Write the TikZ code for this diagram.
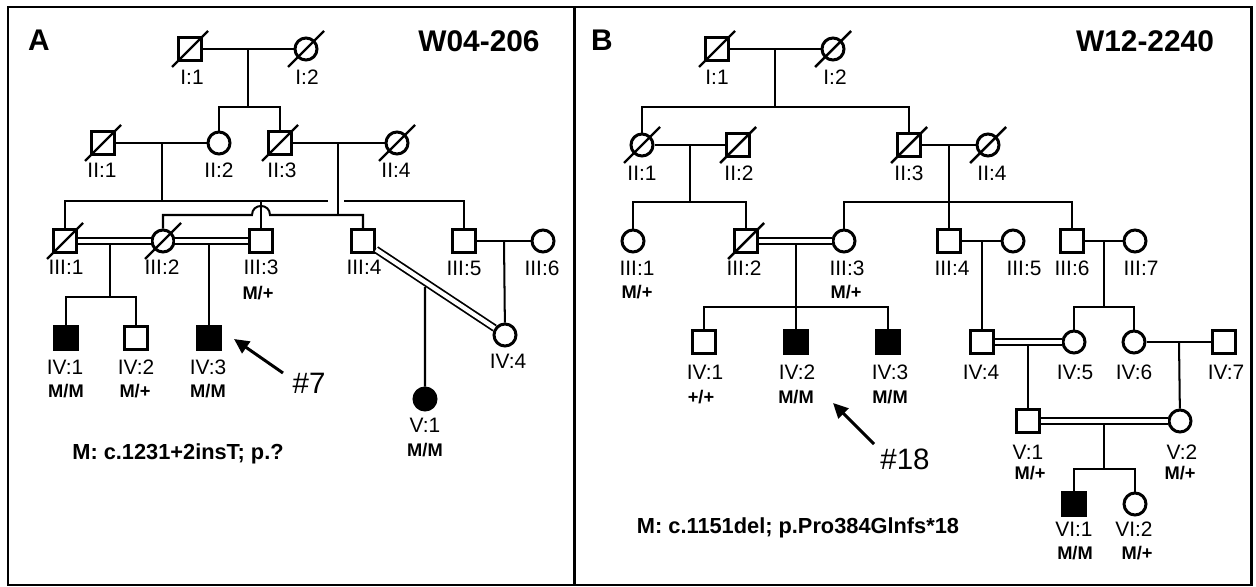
\documentclass[tikz,border=0pt]{standalone}
\usepackage{fontspec}
\setmainfont{Liberation Sans}
\usetikzlibrary{arrows.meta,calc}
\newcommand{\deceased}[1]{\draw[slash] (#1) +(-18,18) -- +(18,-18);}

\begin{document}
\begin{tikzpicture}[x=0.02cm,y=-0.02cm,
  male/.style={draw,line width=1.7pt,rectangle,minimum size=0.46cm,inner sep=0pt,fill=white},
  female/.style={draw,line width=1.7pt,circle,minimum size=0.44cm,inner sep=0pt,fill=white},
  affected/.style={fill=black},
  link/.style={line width=1.15pt},
  consang/.style={line width=1pt,double,double distance=2.4pt},
  slash/.style={line width=1.4pt},
  idlbl/.style={inner sep=0pt,font=\fontsize{11.9}{13}\selectfont},
  geno/.style={inner sep=0pt,font=\fontsize{10.4}{12}\selectfont\bfseries},
  mutn/.style={inner sep=0pt,anchor=base,font=\fontsize{12.4}{14}\selectfont\bfseries},
  famid/.style={inner sep=0pt,font=\fontsize{17}{19}\selectfont\bfseries},
  probnd/.style={inner sep=0pt,font=\fontsize{16.8}{18}\selectfont},
  pointer/.style={line width=1.7pt,-{Triangle[length=8.5pt,width=8pt]}}]
  \useasboundingbox (0,0) rectangle (1256,587);
  \draw[line width=1.7pt] (8,7) rectangle (1251,585);
  \draw[line width=1.7pt] (574,7) -- (574,585);

  % ---------------- family A
  \node[famid] (pA) at (39,40) {A};
  \node[famid] (famA) at (479,41) {W04-206};

  \node[male] (aI1) at (190,49) {};
  \node[female] (aI2) at (306,49) {};
  \node[male] (aII1) at (103,143) {};
  \node[female] (aII2) at (219,143) {};
  \node[male] (aII3) at (280,143) {};
  \node[female] (aII4) at (397,143) {};
  \node[male] (aIII1) at (65,241) {};
  \node[female] (aIII2) at (163,241) {};
  \node[male] (aIII3) at (261,241) {};
  \node[male] (aIII4) at (363,241) {};
  \node[male] (aIII5) at (464,241) {};
  \node[female] (aIII6) at (543,241) {};
  \node[male,affected] (aIV1) at (66,338) {};
  \node[male] (aIV2) at (136,338) {};
  \node[male,affected] (aIV3) at (209,338) {};
  \node[female] (aIV4) at (505,335) {};
  \node[female,affected] (aV1) at (425,399) {};
  \deceased{aI1} \deceased{aI2} \deceased{aII1}
  \deceased{aII3} \deceased{aII4} \deceased{aIII1} \deceased{aIII2}

  \coordinate (amI) at (248,49);
  \coordinate (asI) at (248,107);
  \coordinate (amII1) at (162,143);
  \coordinate (asII1) at (162,201);
  \coordinate (agapL) at (328,201);
  \coordinate (agapR) at (344,201);
  \coordinate (adIII3) at (261,201);
  \coordinate (amII3) at (338,143);
  \coordinate (asII3) at (338,215);
  \coordinate (ahopL) at (252,215);
  \coordinate (ahopR) at (270,215);
  \coordinate (amIII1) at (110,245);
  \coordinate (asIII1) at (110,297);
  \coordinate (amIII2) at (209,245);
  \coordinate (amIII5) at (504,241);
  \coordinate (amIII4) at ($(aIII4)!0.4366!(aIV4)+(0,5)$);

  \draw[link] (aI1) -- (aI2);
  \draw[link] (amI) -- (asI);
  \draw[link] (aII2) |- (asI) -| (aII3);
  \draw[link] (aII1) -- (aII2);
  \draw[link] (amII1) -- (asII1);
  \draw[link] (aIII1) |- (agapL);
  \draw[link] (agapR) -| (aIII5);
  \draw[link] (adIII3) -- (aIII3);
  \draw[link] (aII3) -- (aII4);
  \draw[link] (amII3) -- (asII3);
  \draw[link] (aIII2) |- (ahopL) .. controls +(0,-12) and +(0,-12) .. (ahopR) -| (aIII4);
  \draw[consang] (aIII1) -- (aIII2);
  \draw[consang] (aIII2) -- (aIII3);
  \draw[link] (amIII1) -- (asIII1);
  \draw[link] (aIV1) |- (asIII1) -| (aIV2);
  \draw[link] (amIII2) -- (aIV3);
  \draw[link] (aIII5) -- (aIII6);
  \draw[link] (amIII5) -- (aIV4);
  \draw[consang] (aIII4) -- (aIV4);
  \draw[link] (amIII4) -- (aV1);

  \node[idlbl] (aI1t) at (192,77) {I:1};
  \node[idlbl] (aI2t) at (307,77) {I:2};
  \node[idlbl] (aII1t) at (102,170) {II:1};
  \node[idlbl] (aII2t) at (219,170) {II:2};
  \node[idlbl] (aII3t) at (282,170) {II:3};
  \node[idlbl] (aII4t) at (396,170) {II:4};
  \node[idlbl] (aIII1t) at (66,267) {III:1};
  \node[idlbl] (aIII2t) at (162,267) {III:2};
  \node[idlbl] (aIII3t) at (261,267) {III:3};
  \node[idlbl] (aIII4t) at (364,267) {III:4};
  \node[idlbl] (aIII5t) at (464,268) {III:5};
  \node[idlbl] (aIII6t) at (542,268) {III:6};
  \node[geno] (aIII3g) at (258,293) {M/+};
  \node[idlbl] (aIV1t) at (65,367) {IV:1};
  \node[idlbl] (aIV2t) at (136,367) {IV:2};
  \node[idlbl] (aIV3t) at (208,367) {IV:3};
  \node[geno] (aIV1g) at (66,391) {M/M};
  \node[geno] (aIV2g) at (135,391) {M/+};
  \node[geno] (aIV3g) at (208,391) {M/M};
  \node[idlbl] (aIV4t) at (508,361) {IV:4};
  \node[idlbl] (aV1t) at (425,425) {V:1};
  \node[geno] (aV1g) at (425,450) {M/M};

  \node[probnd] (tag7) at (309,383) {\#7};
  \coordinate (a7s) at (283,373);
  \coordinate (a7e) at (234,339);
  \draw[pointer] (a7s) -- (a7e);
  \node[mutn] (mutA) at (178,459) {M: c.1231+2insT; p.?};

  % ---------------- family B
  \node[famid] (pB) at (602,40) {B};
  \node[famid] (famB) at (1145,41) {W12-2240};

  \node[male] (bI1) at (717,49) {};
  \node[female] (bI2) at (833,49) {};
  \node[female] (bII1) at (642,145) {};
  \node[male] (bII2) at (738,145) {};
  \node[male] (bII3) at (909,145) {};
  \node[female] (bII4) at (988,145) {};
  \node[female] (bIII1) at (633,241) {};
  \node[male] (bIII2) at (746,241) {};
  \node[female] (bIII3) at (844,241) {};
  \node[male] (bIII4) at (949,241) {};
  \node[female] (bIII5) at (1013,241) {};
  \node[male] (bIII6) at (1072,241) {};
  \node[female] (bIII7) at (1135,241) {};
  \node[male] (bIV1) at (704,342) {};
  \node[male,affected] (bIV2) at (796,342) {};
  \node[male,affected] (bIV3) at (888,342) {};
  \node[male] (bIV4) at (982,342) {};
  \node[female] (bIV5) at (1074,342) {};
  \node[female] (bIV6) at (1134,342) {};
  \node[male] (bIV7) at (1224,342) {};
  \node[male] (bV1) at (1028,421) {};
  \node[female] (bV2) at (1180,421) {};
  \node[male,affected] (bVI1) at (1074,504) {};
  \node[female] (bVI2) at (1135,504) {};
  \deceased{bI1} \deceased{bI2} \deceased{bII1} \deceased{bII2}
  \deceased{bII3} \deceased{bII4} \deceased{bIII2}

  \coordinate (bmI) at (775,49);
  \coordinate (bsI) at (775,107);
  \coordinate (bmII1) at (690,145);
  \coordinate (bsII1) at (690,202);
  \coordinate (bmII3) at (949,145);
  \coordinate (bsII3) at (949,202);
  \coordinate (bmIII2) at (796,245);
  \coordinate (bsIII2) at (796,307);
  \coordinate (bmIII4) at (982,241);
  \coordinate (bmIII6) at (1104,241);
  \coordinate (bsIII6) at (1104,307);
  \coordinate (bmIV4) at (1028,346);
  \coordinate (bmIV6) at (1179,342);
  \coordinate (bmV1) at (1104,425);
  \coordinate (bsV1) at (1104,469);

  \draw[link] (bI1) -- (bI2);
  \draw[link] (bmI) -- (bsI);
  \draw[link] (bII1) |- (bsI) -| (bII3);
  \draw[link] (bII1) -- (bII2);
  \draw[link] (bmII1) -- (bsII1);
  \draw[link] (bIII1) |- (bsII1) -| (bIII2);
  \draw[link] (bII3) -- (bII4);
  \draw[link] (bmII3) -- (bIII4);
  \draw[link] (bIII3) |- (bsII3) -| (bIII6);
  \draw[consang] (bIII2) -- (bIII3);
  \draw[link] (bmIII2) -- (bsIII2);
  \draw[link] (bIV1) |- (bsIII2) -| (bIV3);
  \draw[link] (bsIII2) -- (bIV2);
  \draw[link] (bIII4) -- (bIII5);
  \draw[link] (bmIII4) -- (bIV4);
  \draw[link] (bIII6) -- (bIII7);
  \draw[link] (bmIII6) -- (bsIII6);
  \draw[link] (bIV5) |- (bsIII6) -| (bIV6);
  \draw[consang] (bIV4) -- (bIV5);
  \draw[link] (bmIV4) -- (bV1);
  \draw[link] (bIV6) -- (bIV7);
  \draw[link] (bmIV6) -- (bV2);
  \draw[consang] (bV1) -- (bV2);
  \draw[link] (bmV1) -- (bsV1);
  \draw[link] (bVI1) |- (bsV1) -| (bVI2);

  \node[idlbl] (bI1t) at (717,77) {I:1};
  \node[idlbl] (bI2t) at (835,77) {I:2};
  \node[idlbl] (bII1t) at (642,173) {II:1};
  \node[idlbl] (bII2t) at (739,173) {II:2};
  \node[idlbl] (bII3t) at (909,173) {II:3};
  \node[idlbl] (bII4t) at (992,173) {II:4};
  \node[idlbl] (bIII1t) at (637,268) {III:1};
  \node[idlbl] (bIII2t) at (744,268) {III:2};
  \node[idlbl] (bIII3t) at (847,268) {III:3};
  \node[idlbl] (bIII4t) at (952,268) {III:4};
  \node[idlbl] (bIII5t) at (1024,268) {III:5};
  \node[idlbl] (bIII6t) at (1072,268) {III:6};
  \node[idlbl] (bIII7t) at (1141,268) {III:7};
  \node[geno] (bIII1g) at (637,292) {M/+};
  \node[geno] (bIII3g) at (846,292) {M/+};
  \node[idlbl] (bIV1t) at (705,372) {IV:1};
  \node[idlbl] (bIV2t) at (797,372) {IV:2};
  \node[idlbl] (bIV3t) at (890,372) {IV:3};
  \node[idlbl] (bIV4t) at (981,372) {IV:4};
  \node[idlbl] (bIV5t) at (1075,372) {IV:5};
  \node[idlbl] (bIV6t) at (1134,372) {IV:6};
  \node[idlbl] (bIV7t) at (1226,372) {IV:7};
  \node[geno] (bIV1g) at (701,397) {+/+};
  \node[geno] (bIV2g) at (796,397) {M/M};
  \node[geno] (bIV3g) at (890,397) {M/M};
  \node[idlbl] (bV1t) at (1028,452) {V:1};
  \node[geno] (bV1g) at (1030,473) {M/+};
  \node[idlbl] (bV2t) at (1182,452) {V:2};
  \node[geno] (bV2g) at (1180,473) {M/+};
  \node[idlbl] (bVI1t) at (1074,529) {VI:1};
  \node[geno] (bVI1g) at (1075,553) {M/M};
  \node[idlbl] (bVI2t) at (1134,529) {VI:2};
  \node[geno] (bVI2g) at (1137,553) {M/+};

  \node[probnd] (tag18) at (905,459) {\#18};
  \coordinate (b18s) at (874,444);
  \coordinate (b18e) at (833,403);
  \draw[pointer] (b18s) -- (b18e);
  \node[mutn] (mutB) at (798,533) {M: c.1151del; p.Pro384Glnfs*18};
\end{tikzpicture}
\end{document}
